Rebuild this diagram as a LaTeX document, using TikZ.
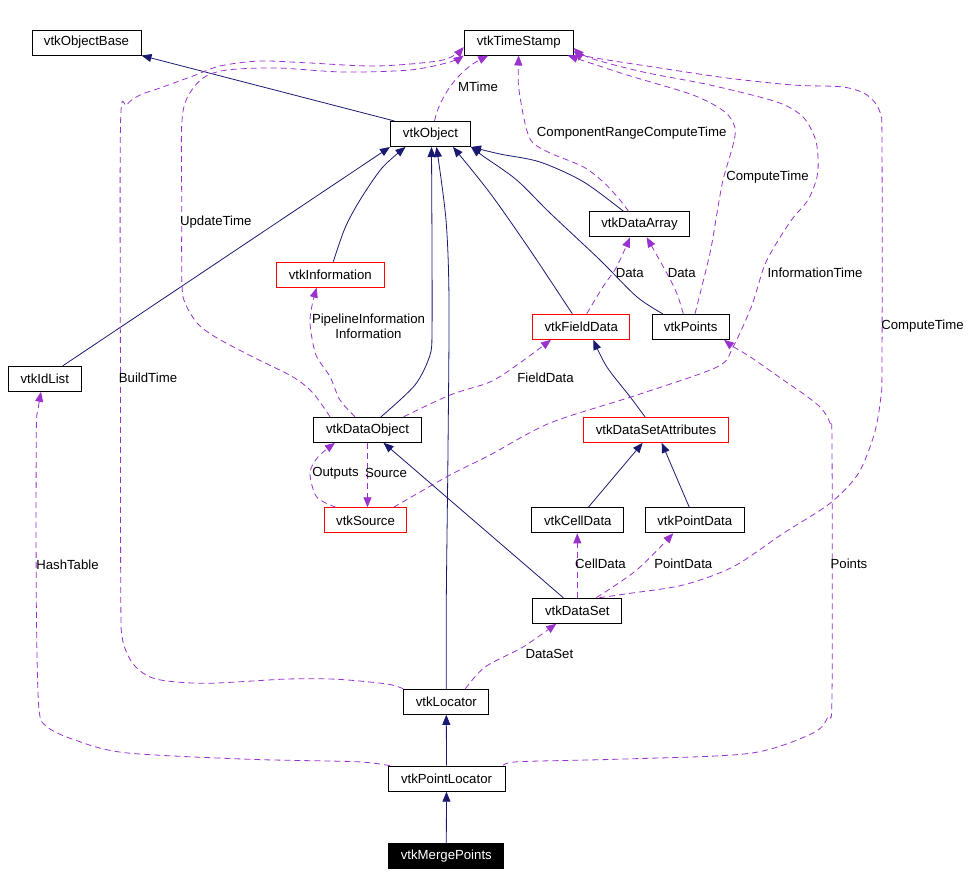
\documentclass[tikz,border=0pt]{standalone}
\usepackage{fontspec}
\setmainfont{Liberation Sans}
\usetikzlibrary{arrows.meta}
\definecolor{navyc}{HTML}{191970}
\definecolor{purp}{HTML}{9A32CD}
\newcommand\diagfont{\fontsize{13.2}{15}\selectfont}
\tikzset{
  cls/.style={draw=black, fill=white, minimum height=25pt, inner sep=0pt, font=\diagfont, line width=1pt},
  redcls/.style={cls, draw=red},
  inh/.style={draw=navyc, line width=0.8pt, -{Triangle[length=10pt,width=8pt]}},
  use/.style={draw=purp, line width=0.8pt, dash pattern=on 6pt off 4pt, -{Triangle[length=10pt,width=8pt]}},
  lbl/.style={font=\diagfont, inner sep=0pt, text=black},
}
\begin{document}
\begin{tikzpicture}[x=1pt, y=-1pt]
\useasboundingbox (0,0) rectangle (975,876);
% nodes
\node[cls, minimum width=109pt] (ob) at (86.5,42.5) {vtkObjectBase};
\node[cls, minimum width=109pt] (ts) at (518.7,42.5) {vtkTimeStamp};
\node[cls, minimum width=80pt] (obj) at (430.5,134) {vtkObject};
\node[cls, minimum width=100pt] (da) at (639.5,224.3) {vtkDataArray};
\node[redcls, minimum width=108pt] (info) at (330.3,274.7) {vtkInformation};
\node[redcls, minimum width=97pt] (fd) at (581.3,326.8) {vtkFieldData};
\node[cls, minimum width=77pt] (pts) at (690.7,326.8) {vtkPoints};
\node[cls, minimum width=73pt] (idl) at (44.8,378.8) {vtkIdList};
\node[cls, minimum width=108pt] (dobj) at (367.5,429.8) {vtkDataObject};
\node[redcls, minimum width=82pt] (src) at (365.5,520.3) {vtkSource};
\node[redcls, minimum width=145pt] (dsa) at (656,429.8) {vtkDataSetAttributes};
\node[cls, minimum width=92pt] (cd) at (577.8,520.3) {vtkCellData};
\node[cls, minimum width=99pt] (pd) at (694.8,520.3) {vtkPointData};
\node[cls, minimum width=89pt] (ds) at (577.3,610.7) {vtkDataSet};
\node[cls, minimum width=85pt] (loc) at (446.3,701.8) {vtkLocator};
\node[cls, minimum width=117pt] (pl) at (446.5,778.7) {vtkPointLocator};
\node[cls, minimum width=115pt, fill=black, text=white] (mp) at (446.3,856.3) {vtkMergePoints};

% inheritance edges
\draw[inh] ([xshift=-36pt]obj.north) -- (ob.south east);
\draw[inh] ([xshift=18pt]idl.north) -- (obj.south west);
\draw[inh] plot[smooth] coordinates {([xshift=3pt]info.north) (345,228) (360,200) (382,168) ([xshift=-25pt]obj.south)};
\draw[inh] plot[smooth] coordinates {([xshift=13.5pt]dobj.north) (415,385) (430,355) (432,330) (432,250) ([xshift=1pt]obj.south)};
\draw[inh] plot[smooth] coordinates {(loc.north) (446.3,600) (448,450) (449,300) (446,220) ([xshift=6pt]obj.south)};
\draw[inh] plot[smooth] coordinates {([xshift=-9pt]fd.north) (530,250) (490,193) ([xshift=-18pt]obj.south east)};
\draw[inh] plot[smooth] coordinates {([xshift=-28pt]pts.north) (636.7,296.7) (600,260) (550,213) (516.7,180) (483,156) (obj.south east)};
\draw[inh] plot[smooth] coordinates {([xshift=-16pt]da.north) (583.3,181.7) (540,162) (500,154) (obj.south east)};
\draw[inh] plot[smooth] coordinates {([xshift=-11pt]dsa.north) (630,396.7) (606.7,366.7) ([xshift=12pt]fd.south)};
\draw[inh] ([xshift=10.5pt]cd.north) -- ([xshift=-13.3pt]dsa.south);
\draw[inh] ([xshift=-5.5pt]pd.north) -- ([xshift=5.7pt]dsa.south);
\draw[inh] ([xshift=-14pt]ds.north) -- ([xshift=16pt]dobj.south);
\draw[inh] (pl.north) -- (loc.south);
\draw[inh] (mp.north) -- (pl.south);

% usage edges
\draw[use] ([xshift=4pt]obj.north) .. controls (440,95) and (460,70) .. ([xshift=-30.5pt]ts.south);
\draw[use] plot[smooth] coordinates {([xshift=-11pt]da.north) (620,200) (603,181.7) (583,166.7) (550,153) (533,143) (526.7,130) (521.7,106.7) (518.3,83) (ts.south)};
\draw[use] plot[smooth] coordinates {([xshift=4.3pt]pts.north) (710,253) (717,213) (723,180) (733,145) (735,128) (725,112) (693,95) (627,75) ([xshift=-6pt]ts.south east)};
\draw[use] plot[smooth] coordinates {([xshift=-13.5pt]src.north east) (450,475) (490,455) (550,423) (637,395) (717,367) (733,347) (752,305) (766,262) (790,222) (808,200) (817,177) (818,157) (815,138) (803,117) (777,102) (710,85) (643,72) (590,58) ([yshift=-5.5pt]ts.east)};
\draw[use] plot[smooth] coordinates {([xshift=22pt]ds.north) (630,593.3) (683.3,585) (733.3,566.7) (783.3,533.3) (830,503.3) (858,474) (874,435) (880.5,400) (882,365) (882,145) (880,112) (867,95) (843,87) (793,85) (727,78) (660,68) (590,57) ([yshift=-8.5pt]ts.east)};
\draw[use] plot[smooth] coordinates {([xshift=-37.5pt]dobj.north) (313,393) (293,377) (253,357) (217,338) (198,324) (186,305) (182,285) (181.7,200) (181.7,125) (187,98) (203,78) (227,70) (277,68) (343,72) (410,70) (450,62) (ts.south west)};
\draw[use] plot[smooth] coordinates {(loc.north west) (387,684) (337.5,679.3) (287.5,679) (206,683.3) (156,679) (134,665) (122.6,640) (120.8,600) (120.5,400) (120.5,125) (126.7,105) (140,95) (160,88) (193,76) (220,66) (260,61) (310,63) (377,66) (443,60) ([yshift=-4.5pt]ts.west)};
\draw[use] plot[smooth] coordinates {([xshift=12pt]src.north west) (316.7,497) (310,473) (318,457) ([xshift=22pt]dobj.south west)};
\draw[use] (dobj.south) -- (dobj.south |- src.north);
\draw[use] plot[smooth] coordinates {([xshift=-12.5pt]dobj.north) (340,400) (330,376.7) (316.7,356.7) (311.7,336.7) (310,320) (312.5,303) ([xshift=-13.6pt]info.south)};
\draw[use] plot[smooth] coordinates {([xshift=-18.4pt]dobj.north east) (450,395) (490,382) (517,365) ([xshift=18.7pt]fd.south west)};
\draw[use] plot[smooth] coordinates {([xshift=5.4pt]fd.north) (603,286.7) (616.7,266.7) ([xshift=-9.5pt]da.south)};
\draw[use] plot[smooth] coordinates {([xshift=-7.4pt]pts.north) (676.7,293) (666.7,273) ([xshift=7.2pt]da.south)};
\draw[use] (ds.north) -- (ds.north |- cd.south);
\draw[use] plot[smooth] coordinates {([xshift=19pt]ds.north) (636.7,570) ([xshift=-21.5pt]pd.south)};
\draw[use] plot[smooth] coordinates {([xshift=19pt]loc.north) (485,667) (523,647) ([xshift=-21pt]ds.south)};
\draw[use] plot[smooth] coordinates {([xshift=2.5pt]pl.north west) (356,761.7) (250,759.3) (125,752.7) (75,740) (47,726.7) (38.75,706.7) (36.3,600) (36.3,433) (38,410) ([xshift=-3.8pt]idl.south)};
\draw[use] plot[smooth] coordinates {([xshift=-2pt]pl.north east) (518.75,761.7) (625,759) (750,753.3) (812.5,733.3) (828,716.7) (832,695) (832,445) (830,423) (821,408) (805,395) (783.3,380) (750,356.7) (733.3,346.7) ([xshift=-5.7pt]pts.south east)};

% labels
\node[lbl] (l1) at (478,87) {MTime};
\node[lbl] (l2) at (631.7,133) {ComponentRangeComputeTime};
\node[lbl] (l3) at (767.5,177) {ComputeTime};
\node[lbl] (l4) at (215.8,222) {UpdateTime};
\node[lbl] (l5) at (815,273) {InformationTime};
\node[lbl] (l6) at (629.7,273.3) {Data};
\node[lbl] (l7) at (681.7,273.3) {Data};
\node[lbl] (l8) at (922.5,325.7) {ComputeTime};
\node[lbl, align=center] (l9) at (368.5,325.8) {PipelineInformation\\Information};
\node[lbl] (l10) at (148,377.5) {BuildTime};
\node[lbl] (l11) at (545.5,377.3) {FieldData};
\node[lbl] (l12) at (335.5,473) {Outputs};
\node[lbl] (l13) at (386,473) {Source};
\node[lbl] (l14) at (67.5,564.3) {HashTable};
\node[lbl] (l15) at (600.5,564) {CellData};
\node[lbl] (l16) at (683.3,564) {PointData};
\node[lbl] (l17) at (849,564) {Points};
\node[lbl] (l18) at (549.4,654) {DataSet};
\end{tikzpicture}
\end{document}
